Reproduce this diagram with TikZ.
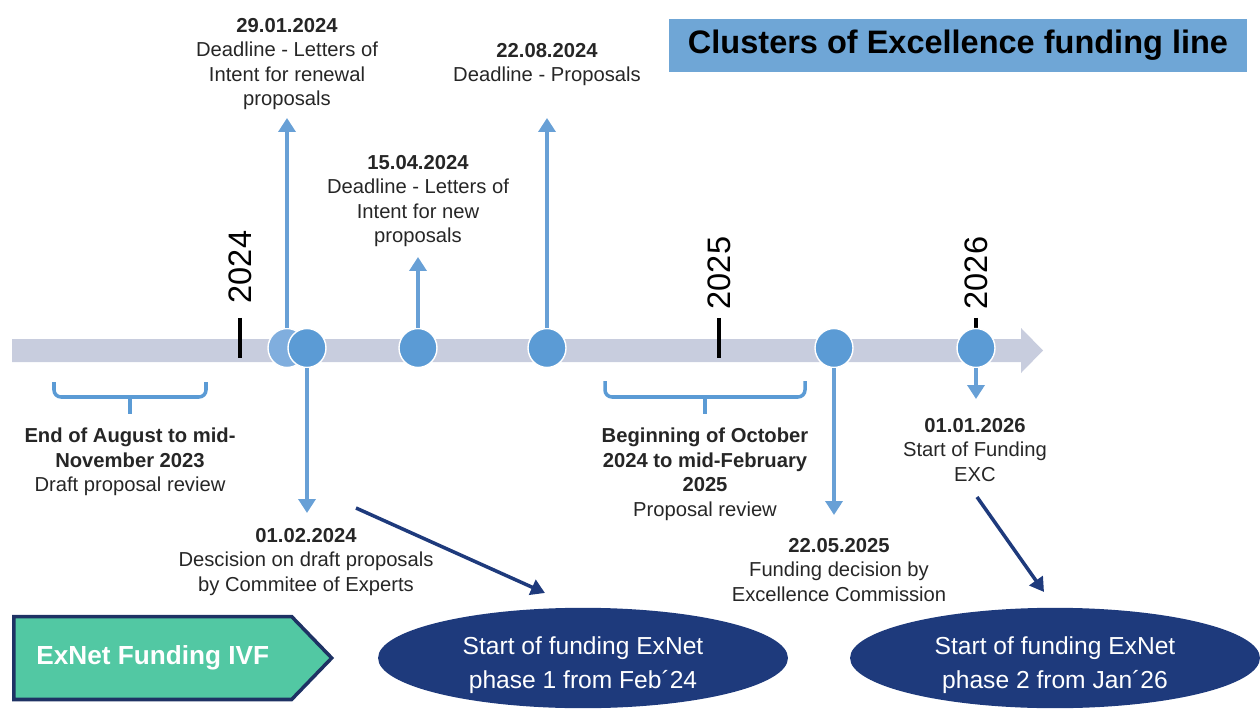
\documentclass[tikz,border=0pt]{standalone}
\usepackage{fontspec}
\setmainfont{Liberation Sans}
\usepackage{tikz}
\usetikzlibrary{arrows.meta,shapes.geometric,shapes.symbols,positioning}
\definecolor{barGrey}{RGB}{200,205,222}
\definecolor{dotBlue}{RGB}{91,155,213}
\definecolor{dotLight}{RGB}{128,174,222}
\definecolor{lineBlue}{RGB}{104,160,214}
\definecolor{titleBlue}{RGB}{111,166,214}
\definecolor{navy}{RGB}{30,58,124}
\definecolor{navyDark}{RGB}{30,50,100}
\definecolor{exGreen}{RGB}{82,200,163}
\definecolor{txtGrey}{RGB}{38,38,38}
\tikzstyle{dotNode} = [ellipse, minimum width=0.76cm, minimum height=0.78cm, inner sep=0, fill=dotBlue, draw=white, line width=0.8pt]
\tikzstyle{dotNodeL} = [dotNode, fill=dotLight]
\tikzstyle{lblNode} = [anchor=north, inner sep=0, align=center, text=txtGrey, font=\fontsize{11.5}{13.9}\selectfont]
\tikzstyle{yearNode} = [rotate=90, inner sep=0, font=\fontsize{18.5}{20}\selectfont]
\tikzstyle{endNode} = [ellipse, fill=navy, minimum width=8.2cm, minimum height=2cm, inner sep=0, align=center, text=white, font=\fontsize{14}{19.5}\selectfont]
\tikzstyle{arrowB} = [line width=2.2pt, draw=lineBlue, -{Triangle[length=0.28cm,width=0.34cm]}]
\tikzstyle{arrowN} = [line width=2pt, draw=navy, -{Triangle[length=0.28cm,width=0.32cm]}]
\tikzstyle{brace} = [line width=2pt, draw=dotBlue, rounded corners=4pt]
\tikzstyle{tick} = [line width=2.4pt, draw=black]

\begin{document}
\begin{tikzpicture}[x=0.02cm, y=-0.02cm]
        \useasboundingbox (0,0) rectangle (1260,709);

        % time bar
        \fill[barGrey] (12,339) -- (1021,339) -- (1021,328) -- (1043,350.5) -- (1021,373) -- (1021,362) -- (12,362) -- cycle;
        \draw[tick] (240,318) -- (240,358);
        \draw[tick] (719,318) -- (719,358);
        \draw[tick] (976,318) -- (976,340);
        \node (y24) [yearNode] at (240,267) {2024};
        \node (y25) [yearNode] at (719,273) {2025};
        \node (y26) [yearNode] at (976,273) {2026};

        \node (title) [fill=titleBlue, minimum width=11.58cm, minimum height=1.06cm, font=\fontsize{18.5}{20}\selectfont\bfseries] at (958,45.5) {Clusters of Excellence funding line};

        % milestones
        \node (c1) [dotNodeL] at (287,348) {};
        \node (c2) [dotNode] at (307,348) {};
        \node (c3) [dotNode] at (418,348) {};
        \node (c4) [dotNode] at (547,348) {};
        \node (c5) [dotNode] at (834,348) {};
        \node (c6) [dotNode] at (976,348) {};

        \coordinate (t1) at (287,118);
        \coordinate (t3) at (418,257);
        \coordinate (t4) at (547,118);
        \coordinate (d2) at (307,513);
        \coordinate (d5) at (834,515);
        \coordinate (d6) at (976,399);

        \draw [arrowB] (c1) -- (t1);
        \draw [arrowB] (c3) -- (t3);
        \draw [arrowB] (c4) -- (t4);
        \draw [arrowB] (c2) -- (d2);
        \draw [arrowB] (c5) -- (d5);
        \draw [arrowB] (c6) -- (d6);

        \node (l1) [lblNode] at (287,18) {\textbf{29.01.2024}\\Deadline - Letters of\\Intent for renewal\\proposals};
        \node (l3) [lblNode] at (418,155) {\textbf{15.04.2024}\\Deadline - Letters of\\Intent for new\\proposals};
        \node (l4) [lblNode] at (547,43) {\textbf{22.08.2024}\\Deadline - Proposals};
        \node (l2) [lblNode] at (306,528) {\textbf{01.02.2024}\\Descision on draft proposals\\by Commitee of Experts};
        \node (l5) [lblNode] at (839,538) {\textbf{22.05.2025}\\Funding decision by\\Excellence Commission};
        \node (l6) [lblNode] at (975,418) {\textbf{01.01.2026}\\Start of Funding\\EXC};

        % review periods
        \draw [brace] (54,382) -- (54,397) -- (206,397) -- (206,382);
        \draw [brace] (130,397) -- (130,414);
        \draw [brace] (605,381) -- (605,397) -- (805,397) -- (805,381);
        \draw [brace] (705,397) -- (705,414);
        \node (r1) [lblNode] at (130,428) {\textbf{End of August to mid-}\\\textbf{November 2023}\\Draft proposal review};
        \node (r2) [lblNode] at (705,428) {\textbf{Beginning of October}\\\textbf{2024 to mid-February}\\\textbf{2025}\\Proposal review};

        % ExNet
        \node (exnet) [signal, signal to=east, signal pointer angle=92, anchor=west, fill=exGreen, draw=navyDark, line width=2pt, minimum width=6.36cm, minimum height=1.66cm, text=white, font=\fontsize{14.9}{16}\selectfont\bfseries] at (12,658) {ExNet Funding IVF};
        \node (e1) [endNode] at (583,658) {\rule{0pt}{18pt}Start of funding ExNet\\phase 1 from Feb´24};
        \node (e2) [endNode] at (1055,658) {\rule{0pt}{18pt}Start of funding ExNet\\phase 2 from Jan´26};

        \coordinate (n1) at (356,508);
        \coordinate (n2) at (545,593);
        \coordinate (n3) at (977,497);
        \coordinate (n4) at (1044,592);
        \draw [arrowN] (n1) -- (n2);
        \draw [arrowN] (n3) -- (n4);

\end{tikzpicture}
\end{document}
